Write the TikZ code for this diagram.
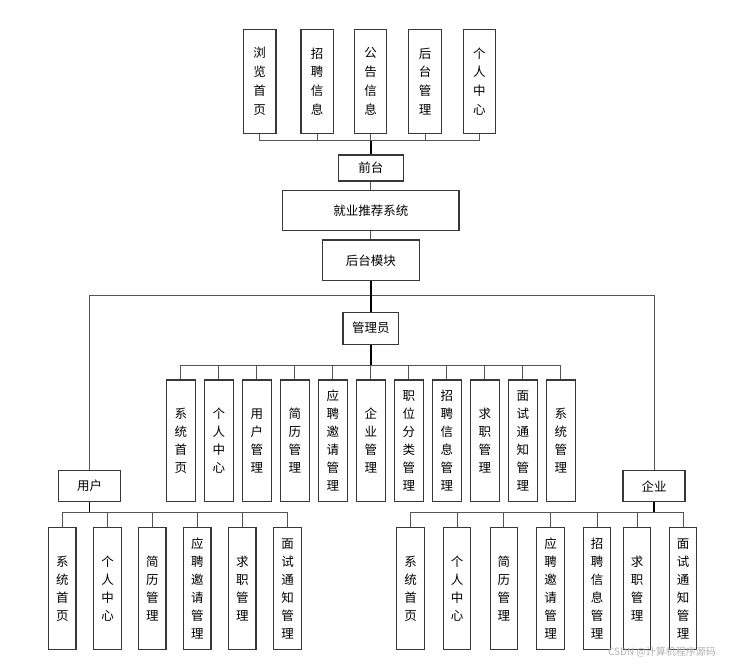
\documentclass[tikz,border=0pt]{standalone}
\usepackage{fontspec}
\setmainfont{Noto Sans CJK SC}
\usetikzlibrary{positioning}
\def\linkwidth{0.9}
\definecolor{edgegray}{rgb}{0.33,0.33,0.33}
\definecolor{boxgray}{rgb}{0.22,0.22,0.22}
\tikzset{
  mbox/.style={draw=boxgray, line width=1.1pt, fill=white, inner sep=0pt, align=center,
    font=\fontsize{12.5}{18}\selectfont},
  topbox/.style={mbox, minimum width=32.5pt, minimum height=104pt, font=\fontsize{12.5}{18.7}\selectfont},
  adminbox/.style={mbox, minimum width=29.4pt, minimum height=121.7pt},
  leafbox/.style={mbox, minimum width=27.3pt, minimum height=121.6pt},
  link/.style={draw=edgegray, line width=\linkwidth pt},
  trunk/.style={draw=black, line width=1.6pt}
}

\begin{document}
\begin{tikzpicture}[x=1pt, y=-1pt]
  \useasboundingbox (0,0) rectangle (744,665);

  % front end
  \foreach \x/\t [count=\i] in {259.7/{浏\\览\\首\\页}, 317.2/{招\\聘\\信\\息}, 370.5/{公\\告\\信\\息},
      425/{后\\台\\管\\理}, 479.3/{个\\人\\中\\心}}
    \node[topbox] (t\i) at (\x,81.3) {\t};

  \node[mbox, minimum width=65pt, minimum height=26pt] (qt) at (370.8,168) {前台};
  \node[mbox, minimum width=176.3pt, minimum height=40pt] (xt) at (370.8,210.7) {就业推荐系统};
  \node[mbox, minimum width=97.3pt, minimum height=40.7pt] (hm) at (370.8,260.3) {后台模块};

  \coordinate (topbus) at (370.8,140.7);
  \foreach \i in {1,...,5}
    \draw[link] (t\i.south) |- (topbus);
  \draw[trunk] (topbus) -- (qt.north);
  \draw[link] (qt.south) -- (xt.north);
  \draw[link] (xt.south) -- (hm.north);

  % back end
  \node[mbox, minimum width=55.7pt, minimum height=31.7pt] (gly) at (370.8,328.2) {管理员};
  \node[mbox, minimum width=62.4pt, minimum height=31pt] (yh) at (89.5,486.2) {用户};
  \node[mbox, minimum width=62pt, minimum height=31pt] (qy) at (654,486.2) {企业};

  \coordinate (midbus) at (370.8,295.7);
  \draw[link] (yh.north) |- (midbus) -| (qy.north);
  \draw[trunk] (hm.south) -- (gly.north);

  % admin
  \foreach \t [count=\i] in {{系\\统\\首\\页}, {个\\人\\中\\心}, {用\\户\\管\\理}, {简\\历\\管\\理},
      {应\\聘\\邀\\请\\管\\理}, {企\\业\\管\\理}, {职\\位\\分\\类\\管\\理}, {招\\聘\\信\\息\\管\\理},
      {求\\职\\管\\理}, {面\\试\\通\\知\\管\\理}, {系\\统\\管\\理}}
    \node[adminbox] (a\i) at (142.8+38*\i,440.8) {\t};

  \coordinate (abus) at (370.8,365);
  \draw[trunk] (gly.south) -- (abus);
  \foreach \i in {1,...,11}
    \draw[link] (a\i.north) |- (abus);

  % user
  \foreach \x/\t [count=\i] in {62.3/{系\\统\\首\\页}, 107.5/{个\\人\\中\\心}, 152.3/{简\\历\\管\\理},
      197.3/{应\\聘\\邀\\请\\管\\理}, 242.3/{求\\职\\管\\理}, 287.5/{面\\试\\通\\知\\管\\理}}
    \node[leafbox] (u\i) at (\x,588.5) {\t};

  \coordinate (ubus) at (89.5,512.7);
  \draw[trunk] (yh.south) -- (ubus);
  \foreach \i in {1,...,6}
    \draw[link] (u\i.north) |- (ubus);

  % company
  \foreach \x/\t [count=\i] in {410.5/{系\\统\\首\\页}, 457.2/{个\\人\\中\\心}, 503.8/{简\\历\\管\\理},
      550.5/{应\\聘\\邀\\请\\管\\理}, 597.2/{招\\聘\\信\\息\\管\\理}, 637.2/{求\\职\\管\\理},
      683.2/{面\\试\\通\\知\\管\\理}}
    \node[leafbox] (c\i) at (\x,588.5) {\t};

  \coordinate (cbus) at (654,512.7);
  \draw[trunk] (qy.south) -- (cbus);
  \foreach \i in {1,...,7}
    \draw[link] (c\i.north) |- (cbus);

  \node[font=\fontsize{10}{10}\selectfont, text=black!30] (wm) at (662,652) {CSDN @计算机程序源码};
\end{tikzpicture}
\end{document}
